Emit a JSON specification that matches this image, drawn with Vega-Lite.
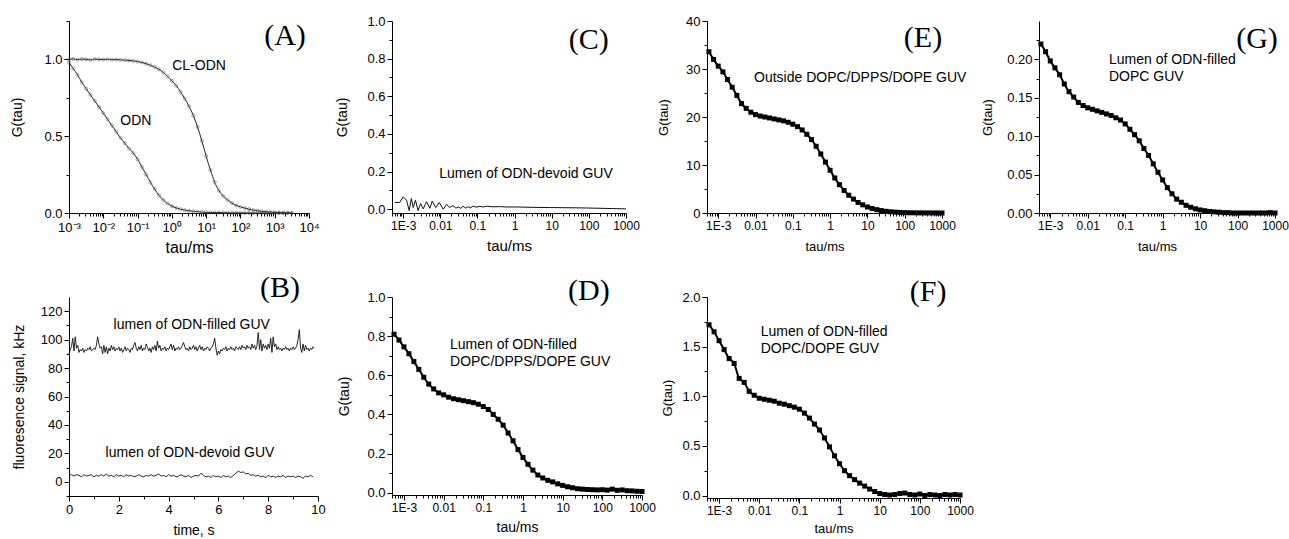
{
"$schema": "https://vega.github.io/schema/vega-lite/v6.json",
"background": "white",
"padding": {"left": 10, "top": 15, "right": 0, "bottom": 0},
"columns": 7,
"align": "each",
"bounds": "flush",
"spacing": {"row": 84, "column": 32},
"datasets": {
"A": [
{"t":0.001,"g":1.0,"s":"CL-ODN"},{"t":0.001334,"g":1.003,"s":"CL-ODN"},{"t":0.001778,"g":0.998,"s":"CL-ODN"},{"t":0.002371,"g":1.002,"s":"CL-ODN"},{"t":0.003162,"g":1.0,"s":"CL-ODN"},{"t":0.004217,"g":0.997,"s":"CL-ODN"},{"t":0.005623,"g":1.002,"s":"CL-ODN"},{"t":0.007499,"g":1.0,"s":"CL-ODN"},{"t":0.01,"g":0.999,"s":"CL-ODN"},{"t":0.01334,"g":1.001,"s":"CL-ODN"},{"t":0.01778,"g":0.998,"s":"CL-ODN"},{"t":0.02371,"g":0.999,"s":"CL-ODN"},{"t":0.03162,"g":0.997,"s":"CL-ODN"},{"t":0.04217,"g":0.995,"s":"CL-ODN"},{"t":0.05623,"g":0.993,"s":"CL-ODN"},{"t":0.07499,"g":0.99,"s":"CL-ODN"},{"t":0.1,"g":0.986,"s":"CL-ODN"},{"t":0.1334,"g":0.98,"s":"CL-ODN"},{"t":0.1778,"g":0.972,"s":"CL-ODN"},{"t":0.2371,"g":0.962,"s":"CL-ODN"},{"t":0.3162,"g":0.95,"s":"CL-ODN"},{"t":0.4217,"g":0.935,"s":"CL-ODN"},{"t":0.5623,"g":0.915,"s":"CL-ODN"},{"t":0.7499,"g":0.89,"s":"CL-ODN"},{"t":1,"g":0.86,"s":"CL-ODN"},{"t":1.334,"g":0.83,"s":"CL-ODN"},{"t":1.778,"g":0.79,"s":"CL-ODN"},{"t":2.371,"g":0.745,"s":"CL-ODN"},{"t":3.162,"g":0.695,"s":"CL-ODN"},{"t":4.217,"g":0.635,"s":"CL-ODN"},{"t":5.623,"g":0.56,"s":"CL-ODN"},{"t":7.499,"g":0.47,"s":"CL-ODN"},{"t":10,"g":0.37,"s":"CL-ODN"},{"t":13.34,"g":0.28,"s":"CL-ODN"},{"t":17.78,"g":0.2,"s":"CL-ODN"},{"t":23.71,"g":0.145,"s":"CL-ODN"},{"t":31.62,"g":0.11,"s":"CL-ODN"},{"t":42.17,"g":0.085,"s":"CL-ODN"},{"t":56.23,"g":0.065,"s":"CL-ODN"},{"t":74.99,"g":0.05,"s":"CL-ODN"},{"t":100,"g":0.04,"s":"CL-ODN"},{"t":133.4,"g":0.032,"s":"CL-ODN"},{"t":177.8,"g":0.025,"s":"CL-ODN"},{"t":237.1,"g":0.019,"s":"CL-ODN"},{"t":316.2,"g":0.015,"s":"CL-ODN"},{"t":421.7,"g":0.011,"s":"CL-ODN"},{"t":562.3,"g":0.008,"s":"CL-ODN"},{"t":749.9,"g":0.006,"s":"CL-ODN"},{"t":1000,"g":0.004,"s":"CL-ODN"},{"t":1334,"g":0.003,"s":"CL-ODN"},{"t":1778,"g":0.002,"s":"CL-ODN"},{"t":2371,"g":0.001,"s":"CL-ODN"},{"t":3162,"g":0.0,"s":"CL-ODN"},
{"t":0.001,"g":0.98,"s":"ODN"},{"t":0.001334,"g":0.94,"s":"ODN"},{"t":0.001778,"g":0.9,"s":"ODN"},{"t":0.002371,"g":0.85,"s":"ODN"},{"t":0.003162,"g":0.81,"s":"ODN"},{"t":0.004217,"g":0.77,"s":"ODN"},{"t":0.005623,"g":0.73,"s":"ODN"},{"t":0.007499,"g":0.69,"s":"ODN"},{"t":0.01,"g":0.65,"s":"ODN"},{"t":0.01334,"g":0.61,"s":"ODN"},{"t":0.01778,"g":0.57,"s":"ODN"},{"t":0.02371,"g":0.53,"s":"ODN"},{"t":0.03162,"g":0.49,"s":"ODN"},{"t":0.04217,"g":0.455,"s":"ODN"},{"t":0.05623,"g":0.42,"s":"ODN"},{"t":0.07499,"g":0.39,"s":"ODN"},{"t":0.1,"g":0.35,"s":"ODN"},{"t":0.1334,"g":0.3,"s":"ODN"},{"t":0.1778,"g":0.25,"s":"ODN"},{"t":0.2371,"g":0.2,"s":"ODN"},{"t":0.3162,"g":0.155,"s":"ODN"},{"t":0.4217,"g":0.115,"s":"ODN"},{"t":0.5623,"g":0.085,"s":"ODN"},{"t":0.7499,"g":0.062,"s":"ODN"},{"t":1,"g":0.045,"s":"ODN"},{"t":1.334,"g":0.033,"s":"ODN"},{"t":1.778,"g":0.025,"s":"ODN"},{"t":2.371,"g":0.019,"s":"ODN"},{"t":3.162,"g":0.014,"s":"ODN"},{"t":4.217,"g":0.011,"s":"ODN"},{"t":5.623,"g":0.008,"s":"ODN"},{"t":7.499,"g":0.006,"s":"ODN"},{"t":10,"g":0.004,"s":"ODN"},{"t":13.34,"g":0.0035,"s":"ODN"},{"t":17.78,"g":0.003,"s":"ODN"},{"t":23.71,"g":0.0025,"s":"ODN"},{"t":31.62,"g":0.002,"s":"ODN"},{"t":42.17,"g":0.0015,"s":"ODN"},{"t":56.23,"g":0.001,"s":"ODN"},{"t":74.99,"g":0.001,"s":"ODN"},{"t":100,"g":0.001,"s":"ODN"},{"t":133.4,"g":0.0005,"s":"ODN"},{"t":177.8,"g":0.0005,"s":"ODN"},{"t":237.1,"g":0,"s":"ODN"},{"t":316.2,"g":0,"s":"ODN"},{"t":421.7,"g":0,"s":"ODN"},{"t":562.3,"g":0,"s":"ODN"},{"t":749.9,"g":0,"s":"ODN"},{"t":1000,"g":0,"s":"ODN"},{"t":1334,"g":0,"s":"ODN"},{"t":1778,"g":0,"s":"ODN"},{"t":2371,"g":0,"s":"ODN"},{"t":3162,"g":0,"s":"ODN"}
],
"A_txt": [{"t":6.2,"g":0.933,"label":"CL-ODN"},{"t":0.089,"g":0.573,"label":"ODN"}],
"A_let": [{"t":2000,"g":1.152,"label":"(A)"}],
"B": [
{"t":0,"g":90,"s":"f"},{"t":0.05,"g":93,"s":"f"},{"t":0.1,"g":95,"s":"f"},{"t":0.15,"g":101,"s":"f"},{"t":0.2,"g":92,"s":"f"},{"t":0.25,"g":102,"s":"f"},{"t":0.3,"g":94,"s":"f"},{"t":0.35,"g":96,"s":"f"},{"t":0.4,"g":91,"s":"f"},{"t":0.45,"g":93,"s":"f"},{"t":0.5,"g":92,"s":"f"},{"t":0.55,"g":94,"s":"f"},{"t":0.6,"g":91,"s":"f"},{"t":0.65,"g":93,"s":"f"},{"t":0.7,"g":92,"s":"f"},{"t":0.75,"g":94,"s":"f"},{"t":0.8,"g":93,"s":"f"},{"t":0.85,"g":95,"s":"f"},{"t":0.9,"g":92,"s":"f"},{"t":0.95,"g":93,"s":"f"},
{"t":1.0,"g":94,"s":"f"},{"t":1.05,"g":93,"s":"f"},{"t":1.1,"g":96,"s":"f"},{"t":1.15,"g":102,"s":"f"},{"t":1.2,"g":97,"s":"f"},{"t":1.25,"g":94,"s":"f"},{"t":1.3,"g":95,"s":"f"},{"t":1.35,"g":90,"s":"f"},{"t":1.4,"g":96,"s":"f"},{"t":1.45,"g":91,"s":"f"},{"t":1.5,"g":95,"s":"f"},{"t":1.55,"g":90,"s":"f"},{"t":1.6,"g":94,"s":"f"},{"t":1.65,"g":92,"s":"f"},{"t":1.7,"g":96,"s":"f"},{"t":1.75,"g":93,"s":"f"},{"t":1.8,"g":95,"s":"f"},{"t":1.85,"g":92,"s":"f"},{"t":1.9,"g":94,"s":"f"},{"t":1.95,"g":93,"s":"f"},
{"t":2.0,"g":95,"s":"f"},{"t":2.05,"g":92,"s":"f"},{"t":2.1,"g":94,"s":"f"},{"t":2.15,"g":91,"s":"f"},{"t":2.2,"g":93,"s":"f"},{"t":2.25,"g":95,"s":"f"},{"t":2.3,"g":92,"s":"f"},{"t":2.35,"g":94,"s":"f"},{"t":2.4,"g":93,"s":"f"},{"t":2.45,"g":91,"s":"f"},{"t":2.5,"g":94,"s":"f"},{"t":2.55,"g":93,"s":"f"},{"t":2.6,"g":96,"s":"f"},{"t":2.65,"g":98,"s":"f"},{"t":2.7,"g":94,"s":"f"},{"t":2.75,"g":92,"s":"f"},{"t":2.8,"g":95,"s":"f"},{"t":2.85,"g":93,"s":"f"},{"t":2.9,"g":96,"s":"f"},{"t":2.95,"g":92,"s":"f"},
{"t":3.0,"g":94,"s":"f"},{"t":3.05,"g":93,"s":"f"},{"t":3.1,"g":97,"s":"f"},{"t":3.15,"g":95,"s":"f"},{"t":3.2,"g":92,"s":"f"},{"t":3.25,"g":94,"s":"f"},{"t":3.3,"g":91,"s":"f"},{"t":3.35,"g":95,"s":"f"},{"t":3.4,"g":93,"s":"f"},{"t":3.45,"g":96,"s":"f"},{"t":3.5,"g":92,"s":"f"},{"t":3.55,"g":99,"s":"f"},{"t":3.6,"g":94,"s":"f"},{"t":3.65,"g":96,"s":"f"},{"t":3.7,"g":92,"s":"f"},{"t":3.75,"g":94,"s":"f"},{"t":3.8,"g":93,"s":"f"},{"t":3.85,"g":95,"s":"f"},{"t":3.9,"g":92,"s":"f"},{"t":3.95,"g":94,"s":"f"},
{"t":4.0,"g":93,"s":"f"},{"t":4.05,"g":95,"s":"f"},{"t":4.1,"g":97,"s":"f"},{"t":4.15,"g":93,"s":"f"},{"t":4.2,"g":96,"s":"f"},{"t":4.25,"g":92,"s":"f"},{"t":4.3,"g":94,"s":"f"},{"t":4.35,"g":93,"s":"f"},{"t":4.4,"g":95,"s":"f"},{"t":4.45,"g":93,"s":"f"},{"t":4.5,"g":94,"s":"f"},{"t":4.55,"g":96,"s":"f"},{"t":4.6,"g":98,"s":"f"},{"t":4.65,"g":95,"s":"f"},{"t":4.7,"g":93,"s":"f"},{"t":4.75,"g":94,"s":"f"},{"t":4.8,"g":92,"s":"f"},{"t":4.85,"g":95,"s":"f"},{"t":4.9,"g":93,"s":"f"},{"t":4.95,"g":94,"s":"f"},
{"t":5.0,"g":96,"s":"f"},{"t":5.05,"g":93,"s":"f"},{"t":5.1,"g":95,"s":"f"},{"t":5.15,"g":92,"s":"f"},{"t":5.2,"g":94,"s":"f"},{"t":5.25,"g":96,"s":"f"},{"t":5.3,"g":93,"s":"f"},{"t":5.35,"g":95,"s":"f"},{"t":5.4,"g":92,"s":"f"},{"t":5.45,"g":94,"s":"f"},{"t":5.5,"g":93,"s":"f"},{"t":5.55,"g":95,"s":"f"},{"t":5.6,"g":94,"s":"f"},{"t":5.65,"g":92,"s":"f"},{"t":5.7,"g":94,"s":"f"},{"t":5.75,"g":95,"s":"f"},{"t":5.8,"g":97,"s":"f"},{"t":5.85,"g":101,"s":"f"},{"t":5.9,"g":94,"s":"f"},{"t":5.95,"g":89,"s":"f"},
{"t":6.0,"g":92,"s":"f"},{"t":6.05,"g":90,"s":"f"},{"t":6.1,"g":93,"s":"f"},{"t":6.15,"g":92,"s":"f"},{"t":6.2,"g":94,"s":"f"},{"t":6.25,"g":93,"s":"f"},{"t":6.3,"g":95,"s":"f"},{"t":6.35,"g":92,"s":"f"},{"t":6.4,"g":94,"s":"f"},{"t":6.45,"g":93,"s":"f"},{"t":6.5,"g":95,"s":"f"},{"t":6.55,"g":93,"s":"f"},{"t":6.6,"g":94,"s":"f"},{"t":6.65,"g":92,"s":"f"},{"t":6.7,"g":95,"s":"f"},{"t":6.75,"g":94,"s":"f"},{"t":6.8,"g":93,"s":"f"},{"t":6.85,"g":95,"s":"f"},{"t":6.9,"g":93,"s":"f"},{"t":6.95,"g":96,"s":"f"},
{"t":7.0,"g":94,"s":"f"},{"t":7.05,"g":95,"s":"f"},{"t":7.1,"g":93,"s":"f"},{"t":7.15,"g":96,"s":"f"},{"t":7.2,"g":94,"s":"f"},{"t":7.25,"g":95,"s":"f"},{"t":7.3,"g":93,"s":"f"},{"t":7.35,"g":97,"s":"f"},{"t":7.4,"g":94,"s":"f"},{"t":7.45,"g":96,"s":"f"},{"t":7.5,"g":93,"s":"f"},{"t":7.55,"g":96,"s":"f"},{"t":7.6,"g":105,"s":"f"},{"t":7.65,"g":93,"s":"f"},{"t":7.7,"g":100,"s":"f"},{"t":7.75,"g":92,"s":"f"},{"t":7.8,"g":97,"s":"f"},{"t":7.85,"g":94,"s":"f"},{"t":7.9,"g":96,"s":"f"},{"t":7.95,"g":93,"s":"f"},
{"t":8.0,"g":97,"s":"f"},{"t":8.05,"g":94,"s":"f"},{"t":8.1,"g":101,"s":"f"},{"t":8.15,"g":91,"s":"f"},{"t":8.2,"g":102,"s":"f"},{"t":8.25,"g":95,"s":"f"},{"t":8.3,"g":97,"s":"f"},{"t":8.35,"g":93,"s":"f"},{"t":8.4,"g":95,"s":"f"},{"t":8.45,"g":93,"s":"f"},{"t":8.5,"g":94,"s":"f"},{"t":8.55,"g":92,"s":"f"},{"t":8.6,"g":94,"s":"f"},{"t":8.65,"g":93,"s":"f"},{"t":8.7,"g":95,"s":"f"},{"t":8.75,"g":93,"s":"f"},{"t":8.8,"g":94,"s":"f"},{"t":8.85,"g":92,"s":"f"},{"t":8.9,"g":94,"s":"f"},{"t":8.95,"g":93,"s":"f"},
{"t":9.0,"g":95,"s":"f"},{"t":9.05,"g":93,"s":"f"},{"t":9.1,"g":94,"s":"f"},{"t":9.15,"g":96,"s":"f"},{"t":9.2,"g":100,"s":"f"},{"t":9.25,"g":107,"s":"f"},{"t":9.3,"g":94,"s":"f"},{"t":9.35,"g":91,"s":"f"},{"t":9.4,"g":97,"s":"f"},{"t":9.45,"g":92,"s":"f"},{"t":9.5,"g":96,"s":"f"},{"t":9.55,"g":93,"s":"f"},{"t":9.6,"g":94,"s":"f"},{"t":9.65,"g":92,"s":"f"},{"t":9.7,"g":94,"s":"f"},{"t":9.75,"g":93,"s":"f"},{"t":9.8,"g":95,"s":"f"},{"t":9.85,"g":94,"s":"f"},
{"t":0.0,"g":4.5,"s":"d"},{"t":0.1,"g":5,"s":"d"},{"t":0.2,"g":4,"s":"d"},{"t":0.3,"g":5,"s":"d"},{"t":0.4,"g":4.5,"s":"d"},{"t":0.5,"g":3.5,"s":"d"},{"t":0.6,"g":5,"s":"d"},{"t":0.7,"g":4,"s":"d"},{"t":0.8,"g":4.5,"s":"d"},{"t":0.9,"g":5,"s":"d"},
{"t":1.0,"g":3.5,"s":"d"},{"t":1.1,"g":4.5,"s":"d"},{"t":1.2,"g":4,"s":"d"},{"t":1.3,"g":5,"s":"d"},{"t":1.4,"g":4,"s":"d"},{"t":1.5,"g":5.5,"s":"d"},{"t":1.6,"g":4,"s":"d"},{"t":1.7,"g":4.5,"s":"d"},{"t":1.8,"g":3.5,"s":"d"},{"t":1.9,"g":5,"s":"d"},
{"t":2.0,"g":4,"s":"d"},{"t":2.1,"g":4.5,"s":"d"},{"t":2.2,"g":3.5,"s":"d"},{"t":2.3,"g":5,"s":"d"},{"t":2.4,"g":4,"s":"d"},{"t":2.5,"g":4.5,"s":"d"},{"t":2.6,"g":3.5,"s":"d"},{"t":2.7,"g":4,"s":"d"},{"t":2.8,"g":5,"s":"d"},{"t":2.9,"g":4,"s":"d"},
{"t":3.0,"g":3.5,"s":"d"},{"t":3.1,"g":4.5,"s":"d"},{"t":3.2,"g":4,"s":"d"},{"t":3.3,"g":5,"s":"d"},{"t":3.4,"g":4,"s":"d"},{"t":3.5,"g":4.5,"s":"d"},{"t":3.6,"g":5.5,"s":"d"},{"t":3.7,"g":4,"s":"d"},{"t":3.8,"g":4.5,"s":"d"},{"t":3.9,"g":3.5,"s":"d"},
{"t":4.0,"g":5,"s":"d"},{"t":4.1,"g":4,"s":"d"},{"t":4.2,"g":4.5,"s":"d"},{"t":4.3,"g":3.5,"s":"d"},{"t":4.4,"g":4,"s":"d"},{"t":4.5,"g":5,"s":"d"},{"t":4.6,"g":4,"s":"d"},{"t":4.7,"g":3.5,"s":"d"},{"t":4.8,"g":4.5,"s":"d"},{"t":4.9,"g":3,"s":"d"},
{"t":5.0,"g":4,"s":"d"},{"t":5.1,"g":4.5,"s":"d"},{"t":5.2,"g":4,"s":"d"},{"t":5.3,"g":6,"s":"d"},{"t":5.4,"g":4.5,"s":"d"},{"t":5.5,"g":3.5,"s":"d"},{"t":5.6,"g":4,"s":"d"},{"t":5.7,"g":3,"s":"d"},{"t":5.8,"g":4.5,"s":"d"},{"t":5.9,"g":3.5,"s":"d"},
{"t":6.0,"g":4,"s":"d"},{"t":6.1,"g":3,"s":"d"},{"t":6.2,"g":4.5,"s":"d"},{"t":6.3,"g":3.5,"s":"d"},{"t":6.4,"g":4,"s":"d"},{"t":6.5,"g":3,"s":"d"},{"t":6.6,"g":4.5,"s":"d"},{"t":6.7,"g":6,"s":"d"},{"t":6.8,"g":7.5,"s":"d"},{"t":6.9,"g":6.5,"s":"d"},
{"t":7.0,"g":7,"s":"d"},{"t":7.1,"g":5.5,"s":"d"},{"t":7.2,"g":6,"s":"d"},{"t":7.3,"g":4.5,"s":"d"},{"t":7.4,"g":5,"s":"d"},{"t":7.5,"g":4,"s":"d"},{"t":7.6,"g":4.5,"s":"d"},{"t":7.7,"g":3.5,"s":"d"},{"t":7.8,"g":4,"s":"d"},{"t":7.9,"g":3,"s":"d"},
{"t":8.0,"g":4.5,"s":"d"},{"t":8.1,"g":3.5,"s":"d"},{"t":8.2,"g":4,"s":"d"},{"t":8.3,"g":3,"s":"d"},{"t":8.4,"g":4,"s":"d"},{"t":8.5,"g":3.5,"s":"d"},{"t":8.6,"g":4.5,"s":"d"},{"t":8.7,"g":3,"s":"d"},{"t":8.8,"g":4,"s":"d"},{"t":8.9,"g":3.5,"s":"d"},
{"t":9.0,"g":4,"s":"d"},{"t":9.1,"g":3,"s":"d"},{"t":9.2,"g":4,"s":"d"},{"t":9.3,"g":3.5,"s":"d"},{"t":9.4,"g":2.5,"s":"d"},{"t":9.5,"g":4,"s":"d"},{"t":9.6,"g":3.5,"s":"d"},{"t":9.7,"g":4.5,"s":"d"},{"t":9.8,"g":3.5,"s":"d"}
],
"B_txt": [{"t":4.93,"g":107.5,"label":"lumen of ODN-filled GUV"},{"t":4.86,"g":17.2,"label":"lumen of ODN-devoid GUV"}],
"B_let": [{"t":8.47,"g":136,"label":"(B)"}],
"C": [
{"t":0.0006,"g":0.036},{"t":0.00081,"g":0.036},{"t":0.001,"g":0.066},{"t":0.00123,"g":0.048},{"t":0.00145,"g":-0.007},{"t":0.00166,"g":0.057},{"t":0.00186,"g":0.009},{"t":0.00214,"g":0.048},{"t":0.00251,"g":-0.007},{"t":0.00295,"g":0.03},{"t":0.00347,"g":0.002},{"t":0.00427,"g":0.04},{"t":0.00525,"g":0.005},{"t":0.00603,"g":0.043},{"t":0.00759,"g":0.009},{"t":0.00933,"g":0.036},{"t":0.012,"g":0.0},{"t":0.0148,"g":0.026},{"t":0.0178,"g":0.009},{"t":0.0219,"g":0.019},{"t":0.0263,"g":0.006},{"t":0.0302,"g":0.012},{"t":0.0355,"g":0.005},{"t":0.0407,"g":0.016},{"t":0.0479,"g":0.006},{"t":0.0562,"g":0.013},{"t":0.0661,"g":0.008},{"t":0.0759,"g":0.017},{"t":0.0912,"g":0.011},{"t":0.115,"g":0.015},{"t":0.145,"g":0.012},{"t":0.174,"g":0.016},{"t":0.25,"g":0.013},{"t":0.398,"g":0.014},{"t":0.6,"g":0.012},{"t":1.12,"g":0.012},{"t":3.09,"g":0.01},{"t":8.71,"g":0.009},{"t":69.2,"g":0.007},{"t":1000,"g":0.002}
],
"C_txt": [{"t":2.03,"g":0.166,"label":"Lumen of ODN-devoid GUV"}],
"C_let": [{"t":100,"g":0.899,"label":"(C)"}],
"D": [
{"t":0.0005623,"g":0.81},{"t":0.0007499,"g":0.78},{"t":0.001,"g":0.745},{"t":0.001334,"g":0.71},{"t":0.001778,"g":0.67},{"t":0.002371,"g":0.63},{"t":0.003162,"g":0.59},{"t":0.004217,"g":0.555},{"t":0.005623,"g":0.53},{"t":0.007499,"g":0.51},{"t":0.01,"g":0.5},{"t":0.01334,"g":0.488},{"t":0.01778,"g":0.48},{"t":0.02371,"g":0.475},{"t":0.03162,"g":0.47},{"t":0.04217,"g":0.465},{"t":0.05623,"g":0.46},{"t":0.07499,"g":0.452},{"t":0.1,"g":0.44},{"t":0.1334,"g":0.425},{"t":0.1778,"g":0.4},{"t":0.2371,"g":0.375},{"t":0.3162,"g":0.345},{"t":0.4217,"g":0.305},{"t":0.5623,"g":0.265},{"t":0.7499,"g":0.22},{"t":1,"g":0.18},{"t":1.334,"g":0.145},{"t":1.778,"g":0.115},{"t":2.371,"g":0.09},{"t":3.162,"g":0.075},{"t":4.217,"g":0.063},{"t":5.623,"g":0.055},{"t":7.499,"g":0.045},{"t":10,"g":0.037},{"t":13.34,"g":0.03},{"t":17.78,"g":0.025},{"t":23.71,"g":0.02},{"t":31.62,"g":0.018},{"t":42.17,"g":0.016},{"t":56.23,"g":0.015},{"t":74.99,"g":0.014},{"t":100,"g":0.015},{"t":133.4,"g":0.013},{"t":177.8,"g":0.018},{"t":237.1,"g":0.012},{"t":316.2,"g":0.014},{"t":421.7,"g":0.01},{"t":562.3,"g":0.009},{"t":749.9,"g":0.007},{"t":1000,"g":0.006}
],
"D_txt": [{"t":0.0145,"g":0.734,"label":"Lumen of ODN-filled\nDOPC/DPPS/DOPE GUV"}],
"D_let": [{"t":46,"g":1.031,"label":"(D)"}],
"E": [
{"t":0.0005623,"g":33.6},{"t":0.0007499,"g":32.0},{"t":0.001,"g":30.6},{"t":0.001334,"g":29.4},{"t":0.001778,"g":27.8},{"t":0.002371,"g":26.2},{"t":0.003162,"g":24.5},{"t":0.004217,"g":22.8},{"t":0.005623,"g":21.8},{"t":0.007499,"g":21.0},{"t":0.01,"g":20.5},{"t":0.01334,"g":20.2},{"t":0.01778,"g":20.0},{"t":0.02371,"g":19.8},{"t":0.03162,"g":19.6},{"t":0.04217,"g":19.4},{"t":0.05623,"g":19.2},{"t":0.07499,"g":18.9},{"t":0.1,"g":18.5},{"t":0.1334,"g":18.0},{"t":0.1778,"g":17.3},{"t":0.2371,"g":16.4},{"t":0.3162,"g":15.3},{"t":0.4217,"g":13.9},{"t":0.5623,"g":12.3},{"t":0.7499,"g":10.6},{"t":1,"g":8.9},{"t":1.334,"g":7.3},{"t":1.778,"g":5.9},{"t":2.371,"g":4.7},{"t":3.162,"g":3.7},{"t":4.217,"g":2.9},{"t":5.623,"g":2.2},{"t":7.499,"g":1.7},{"t":10,"g":1.25},{"t":13.34,"g":0.95},{"t":17.78,"g":0.7},{"t":23.71,"g":0.5},{"t":31.62,"g":0.35},{"t":42.17,"g":0.25},{"t":56.23,"g":0.18},{"t":74.99,"g":0.12},{"t":100,"g":0.08},{"t":133.4,"g":0.05},{"t":177.8,"g":0.04},{"t":237.1,"g":0.03},{"t":316.2,"g":0.02},{"t":421.7,"g":0.02},{"t":562.3,"g":0.01},{"t":749.9,"g":0.01},{"t":1000,"g":0.0}
],
"E_txt": [{"t":0.0091,"g":27.35,"label":"Outside DOPC/DPPS/DOPE GUV"}],
"E_let": [{"t":309,"g":36.5,"label":"(E)"}],
"F": [
{"t":0.0005623,"g":1.72},{"t":0.0007499,"g":1.65},{"t":0.001,"g":1.56},{"t":0.001334,"g":1.47},{"t":0.001778,"g":1.38},{"t":0.002371,"g":1.33},{"t":0.003162,"g":1.18},{"t":0.004217,"g":1.14},{"t":0.005623,"g":1.05},{"t":0.007499,"g":1.01},{"t":0.01,"g":0.98},{"t":0.01334,"g":0.97},{"t":0.01778,"g":0.96},{"t":0.02371,"g":0.95},{"t":0.03162,"g":0.93},{"t":0.04217,"g":0.92},{"t":0.05623,"g":0.905},{"t":0.07499,"g":0.89},{"t":0.1,"g":0.87},{"t":0.1334,"g":0.83},{"t":0.1778,"g":0.78},{"t":0.2371,"g":0.72},{"t":0.3162,"g":0.66},{"t":0.4217,"g":0.58},{"t":0.5623,"g":0.49},{"t":0.7499,"g":0.4},{"t":1,"g":0.32},{"t":1.334,"g":0.25},{"t":1.778,"g":0.2},{"t":2.371,"g":0.16},{"t":3.162,"g":0.125},{"t":4.217,"g":0.095},{"t":5.623,"g":0.065},{"t":7.499,"g":0.04},{"t":10,"g":0.02},{"t":13.34,"g":0.01},{"t":17.78,"g":0.005},{"t":23.71,"g":0.01},{"t":31.62,"g":0.02},{"t":42.17,"g":0.025},{"t":56.23,"g":0.01},{"t":74.99,"g":0.005},{"t":100,"g":0.015},{"t":133.4,"g":0.0},{"t":177.8,"g":0.01},{"t":237.1,"g":0.005},{"t":316.2,"g":0.0},{"t":421.7,"g":0.01},{"t":562.3,"g":0.005},{"t":749.9,"g":0.01},{"t":1000,"g":0.005}
],
"F_txt": [{"t":0.0109,"g":1.61,"label":"Lumen of ODN-filled\nDOPC/DOPE GUV"}],
"F_let": [{"t":160,"g":2.05,"label":"(F)"}],
"G": [
{"t":0.0005623,"g":0.22},{"t":0.0007499,"g":0.21},{"t":0.001,"g":0.198},{"t":0.001334,"g":0.189},{"t":0.001778,"g":0.18},{"t":0.002371,"g":0.168},{"t":0.003162,"g":0.158},{"t":0.004217,"g":0.151},{"t":0.005623,"g":0.144},{"t":0.007499,"g":0.14},{"t":0.01,"g":0.137},{"t":0.01334,"g":0.135},{"t":0.01778,"g":0.133},{"t":0.02371,"g":0.131},{"t":0.03162,"g":0.129},{"t":0.04217,"g":0.127},{"t":0.05623,"g":0.124},{"t":0.07499,"g":0.121},{"t":0.1,"g":0.116},{"t":0.1334,"g":0.109},{"t":0.1778,"g":0.102},{"t":0.2371,"g":0.094},{"t":0.3162,"g":0.084},{"t":0.4217,"g":0.075},{"t":0.5623,"g":0.064},{"t":0.7499,"g":0.053},{"t":1,"g":0.043},{"t":1.334,"g":0.033},{"t":1.778,"g":0.025},{"t":2.371,"g":0.018},{"t":3.162,"g":0.014},{"t":4.217,"g":0.01},{"t":5.623,"g":0.0075},{"t":7.499,"g":0.0055},{"t":10,"g":0.004},{"t":13.34,"g":0.003},{"t":17.78,"g":0.002},{"t":23.71,"g":0.0015},{"t":31.62,"g":0.001},{"t":42.17,"g":0.0005},{"t":56.23,"g":0.0005},{"t":74.99,"g":0},{"t":100,"g":0},{"t":133.4,"g":0},{"t":177.8,"g":0},{"t":237.1,"g":0},{"t":316.2,"g":0},{"t":421.7,"g":0},{"t":562.3,"g":0},{"t":749.9,"g":0.0005},{"t":1000,"g":0}
],
"G_txt": [{"t":0.037,"g":0.194,"label":"Lumen of ODN-filled\nDOPC GUV"}],
"G_let": [{"t":331,"g":0.2266,"label":"(G)"}]
},
"concat": [
{
"width": 240, "height": 192,
"encoding": {
"x": {"field": "t", "type": "quantitative", "scale": {"type": "log", "domain": [0.001, 10000], "nice": false},
 "axis": {"title": "tau/ms", "titleFontSize": 16, "titlePadding": 5, "labelFontSize": 13, "labelPadding": 3,
  "values": [0.001,0.002,0.003,0.004,0.005,0.006,0.007,0.008,0.009,0.01,0.02,0.03,0.04,0.05,0.06,0.07,0.08,0.09,0.1,0.2,0.3,0.4,0.5,0.6,0.7,0.8,0.9,1,2,3,4,5,6,7,8,9,10,20,30,40,50,60,70,80,90,100,200,300,400,500,600,700,800,900,1000,2000,3000,4000,5000,6000,7000,8000,9000,10000],
  "labelExpr": "abs(log(datum.value)/LN10-round(log(datum.value)/LN10))<0.01 ? ['10⁻³','10⁻²','10⁻¹','10⁰','10¹','10²','10³','10⁴'][round(log(datum.value)/LN10)+3] : ''",
  "tickSize": {"condition": {"test": "abs(log(datum.value)/LN10-round(log(datum.value)/LN10))<0.01", "value": 5}, "value": 3}}},
"y": {"field": "g", "type": "quantitative", "scale": {"domain": [0, 1.25], "nice": false, "zero": false},
 "axis": {"title": "G(tau)", "titleFontSize": 14, "titlePadding": 19, "values": [0,0.25,0.5,0.75,1,1.25],
  "labelExpr": "abs(datum.value*2-round(datum.value*2))<0.001 ? format(datum.value,'.1f') : ''",
  "tickSize": {"condition": {"test": "abs(datum.value*2-round(datum.value*2))<0.001", "value": 5}, "value": 3}}}
},
"layer": [
{"data": {"name": "A"}, "mark": {"type": "line", "color": "#222", "strokeWidth": 1, "interpolate": "monotone"}, "encoding": {"detail": {"field": "s"}}},
{"data": {"name": "A"}, "mark": {"type": "point", "shape": "circle", "filled": false, "size": 10, "color": "#555", "strokeWidth": 0.7}},
{"data": {"name": "A_txt"}, "mark": {"type": "text", "fontSize": 14, "align": "center", "baseline": "alphabetic"}, "encoding": {"text": {"field": "label"}}},
{"data": {"name": "A_let"}, "mark": {"type": "text", "font": "Liberation Serif", "fontSize": 30, "align": "center", "baseline": "middle"}, "encoding": {"text": {"field": "label"}}}
]
},
{"data": {"values": []}, "mark": "point", "width": 10, "height": 1},
{
"width": 234, "height": 192,
"encoding": {
"x": {"field": "t", "type": "quantitative", "scale": {"type": "log", "domain": [0.0005, 1000], "nice": false},
 "axis": {"title": "tau/ms", "titleFontSize": 15, "titlePadding": 7, "labelFontSize": 12,
  "values": [0.0005,0.0006,0.0007,0.0008,0.0009,0.001,0.002,0.003,0.004,0.005,0.006,0.007,0.008,0.009,0.01,0.02,0.03,0.04,0.05,0.06,0.07,0.08,0.09,0.1,0.2,0.3,0.4,0.5,0.6,0.7,0.8,0.9,1,2,3,4,5,6,7,8,9,10,20,30,40,50,60,70,80,90,100,200,300,400,500,600,700,800,900,1000],
  "labelExpr": "abs(log(datum.value)/LN10-round(log(datum.value)/LN10))<0.01 ? (datum.value<0.002 ? '1E-3' : format(datum.value,'~g')) : ''",
  "tickSize": {"condition": {"test": "abs(log(datum.value)/LN10-round(log(datum.value)/LN10))<0.01", "value": 5}, "value": 3}}},
"y": {"field": "g", "type": "quantitative", "scale": {"domain": [-0.02, 1.0], "nice": false, "zero": false},
 "axis": {"title": "G(tau)", "titleFontSize": 14, "titlePadding": 17, "values": [0,0.1,0.2,0.3,0.4,0.5,0.6,0.7,0.8,0.9,1.0],
  "labelExpr": "abs(datum.value*5-round(datum.value*5))<0.001 ? format(datum.value,'.1f') : ''",
  "tickSize": {"condition": {"test": "abs(datum.value*5-round(datum.value*5))<0.001", "value": 5}, "value": 3}}}
},
"layer": [
{"data": {"name": "C"}, "mark": {"type": "line", "color": "#111", "strokeWidth": 1}},
{"data": {"name": "C_txt"}, "mark": {"type": "text", "fontSize": 14, "align": "center", "baseline": "alphabetic"}, "encoding": {"text": {"field": "label"}}},
{"data": {"name": "C_let"}, "mark": {"type": "text", "font": "Liberation Serif", "fontSize": 30, "align": "center", "baseline": "middle"}, "encoding": {"text": {"field": "label"}}}
]
},
{"data": {"values": []}, "mark": "point", "width": 1, "height": 1},
{
"width": 235, "height": 192,
"encoding": {
"x": {"field": "t", "type": "quantitative", "scale": {"type": "log", "domain": [0.0005, 1000], "nice": false},
 "axis": {"title": "tau/ms", "titleFontSize": 13, "titlePadding": 9, "labelFontSize": 12,
  "values": [0.0005,0.0006,0.0007,0.0008,0.0009,0.001,0.002,0.003,0.004,0.005,0.006,0.007,0.008,0.009,0.01,0.02,0.03,0.04,0.05,0.06,0.07,0.08,0.09,0.1,0.2,0.3,0.4,0.5,0.6,0.7,0.8,0.9,1,2,3,4,5,6,7,8,9,10,20,30,40,50,60,70,80,90,100,200,300,400,500,600,700,800,900,1000],
  "labelExpr": "abs(log(datum.value)/LN10-round(log(datum.value)/LN10))<0.01 ? (datum.value<0.002 ? '1E-3' : format(datum.value,'~g')) : ''",
  "tickSize": {"condition": {"test": "abs(log(datum.value)/LN10-round(log(datum.value)/LN10))<0.01", "value": 5}, "value": 3}}},
"y": {"field": "g", "type": "quantitative", "scale": {"domain": [0, 40], "nice": false, "zero": false},
 "axis": {"title": "G(tau)", "titleFontSize": 13, "titlePadding": 15, "values": [0,5,10,15,20,25,30,35,40],
  "labelExpr": "datum.value%10==0 ? format(datum.value,'d') : ''",
  "tickSize": {"condition": {"test": "datum.value%10==0", "value": 5}, "value": 3}}}
},
"layer": [
{"data": {"name": "E"}, "mark": {"type": "line", "color": "#000", "strokeWidth": 2, "interpolate": "monotone"}},
{"data": {"name": "E"}, "mark": {"type": "point", "shape": "square", "filled": true, "size": 25, "color": "#000", "opacity": 1}},
{"data": {"name": "E_txt"}, "mark": {"type": "text", "fontSize": 14, "align": "left", "baseline": "alphabetic"}, "encoding": {"text": {"field": "label"}}},
{"data": {"name": "E_let"}, "mark": {"type": "text", "font": "Liberation Serif", "fontSize": 30, "align": "center", "baseline": "middle"}, "encoding": {"text": {"field": "label"}}}
]
},
{"data": {"values": []}, "mark": "point", "width": 15, "height": 1},
{
"width": 236, "height": 192,
"encoding": {
"x": {"field": "t", "type": "quantitative", "scale": {"type": "log", "domain": [0.0005, 1000], "nice": false},
 "axis": {"title": "tau/ms", "titleFontSize": 13, "titlePadding": 9, "labelFontSize": 12,
  "values": [0.0005,0.0006,0.0007,0.0008,0.0009,0.001,0.002,0.003,0.004,0.005,0.006,0.007,0.008,0.009,0.01,0.02,0.03,0.04,0.05,0.06,0.07,0.08,0.09,0.1,0.2,0.3,0.4,0.5,0.6,0.7,0.8,0.9,1,2,3,4,5,6,7,8,9,10,20,30,40,50,60,70,80,90,100,200,300,400,500,600,700,800,900,1000],
  "labelExpr": "abs(log(datum.value)/LN10-round(log(datum.value)/LN10))<0.01 ? (datum.value<0.002 ? '1E-3' : format(datum.value,'~g')) : ''",
  "tickSize": {"condition": {"test": "abs(log(datum.value)/LN10-round(log(datum.value)/LN10))<0.01", "value": 5}, "value": 3}}},
"y": {"field": "g", "type": "quantitative", "scale": {"domain": [0, 0.25], "nice": false, "zero": false},
 "axis": {"title": "G(tau)", "titleFontSize": 13, "titlePadding": 12, "values": [0,0.025,0.05,0.075,0.1,0.125,0.15,0.175,0.2,0.225],
  "labelExpr": "abs(datum.value*20-round(datum.value*20))<0.001 ? format(datum.value,'.2f') : ''",
  "tickSize": {"condition": {"test": "abs(datum.value*20-round(datum.value*20))<0.001", "value": 5}, "value": 3}}}
},
"layer": [
{"data": {"name": "G"}, "mark": {"type": "line", "color": "#000", "strokeWidth": 2, "interpolate": "monotone"}},
{"data": {"name": "G"}, "mark": {"type": "point", "shape": "square", "filled": true, "size": 25, "color": "#000", "opacity": 1}},
{"data": {"name": "G_txt"}, "mark": {"type": "text", "fontSize": 14, "align": "left", "baseline": "alphabetic", "lineBreak": "\n", "lineHeight": 17}, "encoding": {"text": {"field": "label"}}},
{"data": {"name": "G_let"}, "mark": {"type": "text", "font": "Liberation Serif", "fontSize": 30, "align": "center", "baseline": "middle"}, "encoding": {"text": {"field": "label"}}}
]
},
{
"width": 249, "height": 199,
"encoding": {
"x": {"field": "t", "type": "quantitative", "scale": {"domain": [0, 10], "nice": false, "zero": false},
 "axis": {"title": "time, s", "titleFontSize": 14, "titlePadding": 7, "values": [0,1,2,3,4,5,6,7,8,9,10],
  "labelExpr": "datum.value%2==0 ? format(datum.value,'d') : ''",
  "tickSize": {"condition": {"test": "datum.value%2==0", "value": 5}, "value": 3}}},
"y": {"field": "g", "type": "quantitative", "scale": {"domain": [-10, 130], "nice": false, "zero": false},
 "axis": {"title": "fluoresence signal, kHz", "titleFontSize": 14, "titlePadding": 14, "values": [-10,0,10,20,30,40,50,60,70,80,90,100,110,120],
  "labelExpr": "datum.value%20==0 ? format(datum.value,'d') : ''",
  "tickSize": {"condition": {"test": "datum.value%20==0", "value": 5}, "value": 3}}}
},
"layer": [
{"data": {"name": "B"}, "mark": {"type": "line", "color": "#111", "strokeWidth": 0.9}, "encoding": {"detail": {"field": "s"}}},
{"data": {"name": "B_txt"}, "mark": {"type": "text", "fontSize": 14, "align": "center", "baseline": "alphabetic"}, "encoding": {"text": {"field": "label"}}},
{"data": {"name": "B_let"}, "mark": {"type": "text", "font": "Liberation Serif", "fontSize": 30, "align": "center", "baseline": "middle"}, "encoding": {"text": {"field": "label"}}}
]
},
{"data": {"values": []}, "mark": "point", "width": 10, "height": 1},
{
"width": 250, "height": 198,
"encoding": {
"x": {"field": "t", "type": "quantitative", "scale": {"type": "log", "domain": [0.0005, 1000], "nice": false},
 "axis": {"title": "tau/ms", "titleFontSize": 14, "titlePadding": 7, "labelFontSize": 12,
  "values": [0.0005,0.0006,0.0007,0.0008,0.0009,0.001,0.002,0.003,0.004,0.005,0.006,0.007,0.008,0.009,0.01,0.02,0.03,0.04,0.05,0.06,0.07,0.08,0.09,0.1,0.2,0.3,0.4,0.5,0.6,0.7,0.8,0.9,1,2,3,4,5,6,7,8,9,10,20,30,40,50,60,70,80,90,100,200,300,400,500,600,700,800,900,1000],
  "labelExpr": "abs(log(datum.value)/LN10-round(log(datum.value)/LN10))<0.01 ? (datum.value<0.002 ? '1E-3' : format(datum.value,'~g')) : ''",
  "tickSize": {"condition": {"test": "abs(log(datum.value)/LN10-round(log(datum.value)/LN10))<0.01", "value": 5}, "value": 3}}},
"y": {"field": "g", "type": "quantitative", "scale": {"domain": [-0.012, 1.0], "nice": false, "zero": false},
 "axis": {"title": "G(tau)", "titleFontSize": 14, "titlePadding": 15, "values": [0,0.1,0.2,0.3,0.4,0.5,0.6,0.7,0.8,0.9,1.0],
  "labelExpr": "abs(datum.value*5-round(datum.value*5))<0.001 ? format(datum.value,'.1f') : ''",
  "tickSize": {"condition": {"test": "abs(datum.value*5-round(datum.value*5))<0.001", "value": 5}, "value": 3}}}
},
"layer": [
{"data": {"name": "D"}, "mark": {"type": "line", "color": "#000", "strokeWidth": 2, "interpolate": "monotone"}},
{"data": {"name": "D"}, "mark": {"type": "point", "shape": "square", "filled": true, "size": 25, "color": "#000", "opacity": 1}},
{"data": {"name": "D_txt"}, "mark": {"type": "text", "fontSize": 14, "align": "left", "baseline": "alphabetic", "lineBreak": "\n", "lineHeight": 17}, "encoding": {"text": {"field": "label"}}},
{"data": {"name": "D_let"}, "mark": {"type": "text", "font": "Liberation Serif", "fontSize": 30, "align": "center", "baseline": "middle"}, "encoding": {"text": {"field": "label"}}}
]
},
{"data": {"values": []}, "mark": "point", "width": 1, "height": 1},
{
"width": 253, "height": 201,
"encoding": {
"x": {"field": "t", "type": "quantitative", "scale": {"type": "log", "domain": [0.0005, 1000], "nice": false},
 "axis": {"title": "tau/ms", "titleFontSize": 13, "titlePadding": 6, "labelFontSize": 12,
  "values": [0.0005,0.0006,0.0007,0.0008,0.0009,0.001,0.002,0.003,0.004,0.005,0.006,0.007,0.008,0.009,0.01,0.02,0.03,0.04,0.05,0.06,0.07,0.08,0.09,0.1,0.2,0.3,0.4,0.5,0.6,0.7,0.8,0.9,1,2,3,4,5,6,7,8,9,10,20,30,40,50,60,70,80,90,100,200,300,400,500,600,700,800,900,1000],
  "labelExpr": "abs(log(datum.value)/LN10-round(log(datum.value)/LN10))<0.01 ? (datum.value<0.002 ? '1E-3' : format(datum.value,'~g')) : ''",
  "tickSize": {"condition": {"test": "abs(log(datum.value)/LN10-round(log(datum.value)/LN10))<0.01", "value": 5}, "value": 3}}},
"y": {"field": "g", "type": "quantitative", "scale": {"domain": [-0.025, 2.0], "nice": false, "zero": false},
 "axis": {"title": "G(tau)", "titleFontSize": 13, "titlePadding": 7, "values": [0,0.25,0.5,0.75,1,1.25,1.5,1.75,2],
  "labelExpr": "abs(datum.value*2-round(datum.value*2))<0.001 ? format(datum.value,'.1f') : ''",
  "tickSize": {"condition": {"test": "abs(datum.value*2-round(datum.value*2))<0.001", "value": 5}, "value": 3}}}
},
"layer": [
{"data": {"name": "F"}, "mark": {"type": "line", "color": "#000", "strokeWidth": 2, "interpolate": "monotone"}},
{"data": {"name": "F"}, "mark": {"type": "point", "shape": "square", "filled": true, "size": 25, "color": "#000", "opacity": 1}},
{"data": {"name": "F_txt"}, "mark": {"type": "text", "fontSize": 14, "align": "left", "baseline": "alphabetic", "lineBreak": "\n", "lineHeight": 17}, "encoding": {"text": {"field": "label"}}},
{"data": {"name": "F_let"}, "mark": {"type": "text", "font": "Liberation Serif", "fontSize": 30, "align": "center", "baseline": "middle"}, "encoding": {"text": {"field": "label"}}}
]
}
],
"config": {
"view": {"stroke": null},
"font": "Liberation Sans",
"axis": {"domainColor": "#000", "tickColor": "#000", "labelColor": "#000", "titleColor": "#000", "labelFont": "Liberation Sans", "titleFont": "Liberation Sans", "labelFontSize": 13, "titleFontWeight": "normal", "grid": false, "labelPadding": 2, "labelOverlap": false, "labelFlush": false, "domainWidth": 1, "tickWidth": 1},
"text": {"font": "Liberation Sans", "color": "#000"}
}
}
